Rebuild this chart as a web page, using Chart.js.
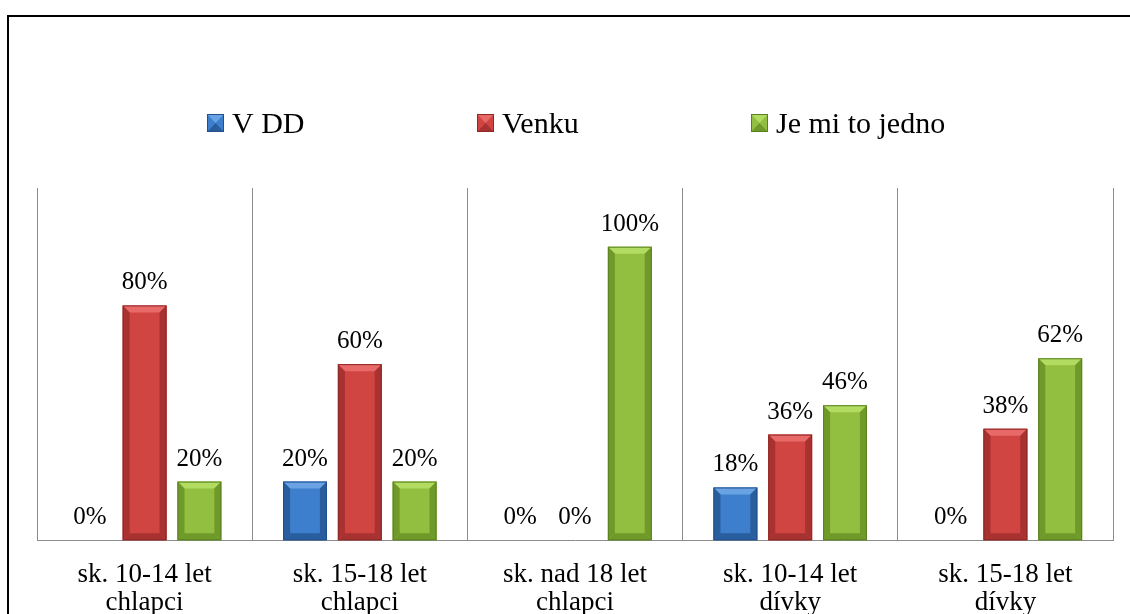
<!DOCTYPE html>
<html>
<head>
<meta charset="utf-8">
<script src="https://cdn.jsdelivr.net/npm/chart.js@4/dist/chart.umd.min.js"></script>
<style>
    html, body { margin: 0; padding: 0; background: #fff; overflow: hidden; }
    #wrap { position: relative; width: 1130px; height: 614px; }
    #frame { position: absolute; left: 7px; top: 15px; width: 1200px; height: 700px; border: 2px solid #000; pointer-events: none; }
    canvas { position: absolute; left: 0; top: 0; }
</style>
</head>
<body>
<div id="wrap">
    <canvas id="chart" width="1130" height="614"></canvas>
    <div id="frame"></div>
</div>
<script>
const categories = [
    ["sk. 10-14 let", "chlapci"],
    ["sk. 15-18 let", "chlapci"],
    ["sk. nad 18 let", "chlapci"],
    ["sk. 10-14 let", "dívky"],
    ["sk. 15-18 let", "dívky"]
]
const seriesNames = ["V DD", "Venku", "Je mi to jedno"]
const vDD = [0, 20, 0, 18, 0]
const venku = [80, 60, 0, 36, 38]
const jedno = [20, 20, 100, 46, 62]

const serif = "'Liberation Serif', 'Times New Roman', serif"

// face / light / dark shades for the bevelled bars
const shades = [
    { face: "#3d7fcc", light: "#6aa3e4", dark: "#285d9e", edge: "#22508a" },
    { face: "#d04442", light: "#e86a68", dark: "#a83230", edge: "#8e2725" },
    { face: "#92bf40", light: "#b2db62", dark: "#6f9a2a", edge: "#5a7f20" }
]

const bevelPlugin = {
    id: "bevel",
    afterDatasetsDraw(chart) {
        const ctx = chart.ctx
        chart.data.datasets.forEach((ds, i) => {
            const s = shades[i]
            chart.getDatasetMeta(i).data.forEach(bar => {
                const p = bar.getProps(["x", "y", "base", "width"], true)
                const h = p.base - p.y
                if (h < 1) return
                const l = p.x - p.width / 2, r = p.x + p.width / 2, t = p.y, b = p.base
                const bv = Math.min(7, h / 2)
                ctx.save()
                const poly = (pts, color) => {
                    ctx.beginPath()
                    ctx.moveTo(pts[0][0], pts[0][1])
                    pts.slice(1).forEach(q => ctx.lineTo(q[0], q[1]))
                    ctx.closePath()
                    ctx.fillStyle = color
                    ctx.fill()
                }
                poly([[l, t], [r, t], [r - bv, t + bv], [l + bv, t + bv]], s.light)
                poly([[l, t], [l + bv, t + bv], [l + bv, b - bv], [l, b]], s.dark)
                poly([[r, t], [r - bv, t + bv], [r - bv, b - bv], [r, b]], s.dark)
                poly([[l, b], [l + bv, b - bv], [r - bv, b - bv], [r, b]], s.dark)
                ctx.strokeStyle = s.edge
                ctx.lineWidth = 1
                ctx.strokeRect(l + 0.5, t + 0.5, p.width - 1, h - 1)
                ctx.restore()
            })
        })
    }
}

const valueLabels = {
    id: "valueLabels",
    afterDatasetsDraw(chart) {
        const ctx = chart.ctx
        ctx.save()
        ctx.font = "25px " + serif
        ctx.fillStyle = "#000"
        ctx.textAlign = "center"
        ctx.textBaseline = "alphabetic"
        chart.data.datasets.forEach((ds, i) => {
            chart.getDatasetMeta(i).data.forEach((bar, j) => {
                ctx.fillText(ds.data[j] + "%", bar.x, bar.y - 16)
            })
        })
        ctx.restore()
    }
}

const legendPlugin = {
    id: "customLegend",
    afterDraw(chart) {
        const ctx = chart.ctx
        const starts = [207, 477, 751]
        ctx.save()
        ctx.font = "30px " + serif
        ctx.textBaseline = "alphabetic"
        ctx.textAlign = "left"
        seriesNames.forEach((name, i) => {
            const x = starts[i], y = 114
            const s = shades[i]
            ctx.fillStyle = s.face
            ctx.fillRect(x, y, 17, 18)
            ctx.fillStyle = s.light
            ctx.beginPath()
            ctx.moveTo(x, y); ctx.lineTo(x + 17, y); ctx.lineTo(x + 8.5, y + 9); ctx.closePath()
            ctx.fill()
            ctx.fillStyle = s.dark
            ctx.beginPath()
            ctx.moveTo(x, y + 18); ctx.lineTo(x + 17, y + 18); ctx.lineTo(x + 8.5, y + 9); ctx.closePath()
            ctx.fill()
            ctx.strokeStyle = s.edge
            ctx.strokeRect(x + 0.5, y + 0.5, 16, 17)
            ctx.fillStyle = "#000"
            ctx.fillText(name, x + 25, 133)
        })
        ctx.restore()
    }
}

new Chart(document.getElementById("chart"), {
    type: "bar",
    data: {
        labels: categories,
        datasets: [vDD, venku, jedno].map((d, i) => ({
            label: seriesNames[i],
            data: d,
            backgroundColor: shades[i].face,
            borderWidth: 0,
            categoryPercentage: 0.764,
            barPercentage: 0.8
        }))
    },
    options: {
        responsive: false,
        animation: false,
        layout: { padding: { top: 188, left: 37, right: 17, bottom: -23 } },
        plugins: {
            legend: { display: false },
            tooltip: { enabled: false }
        },
        scales: {
            x: {
                grid: { offset: true, color: "#8c8c8c", drawTicks: false },
                border: { display: true, color: "#8c8c8c" },
                ticks: {
                    color: "#000",
                    font: { family: serif, size: 27, lineHeight: 1.05 },
                    padding: 20,
                    maxRotation: 0,
                    autoSkip: false
                }
            },
            y: {
                display: false,
                min: 0,
                max: 120
            }
        }
    },
    plugins: [bevelPlugin, valueLabels, legendPlugin]
});
</script>
</body>
</html>
